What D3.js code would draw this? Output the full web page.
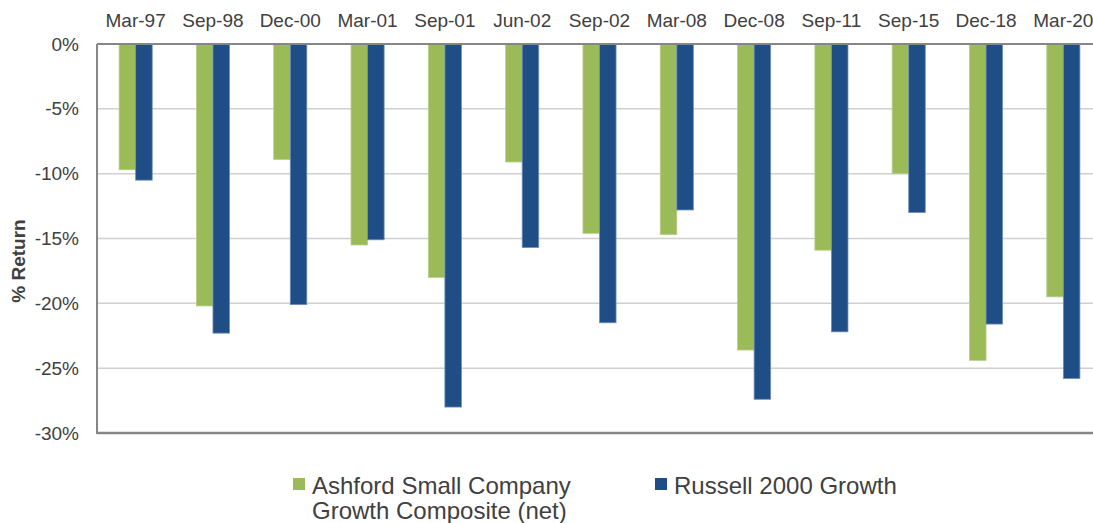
<!DOCTYPE html>
<html>
<head>
<meta charset="utf-8">
<script src="https://cdn.jsdelivr.net/npm/d3@7"></script>
<style>
  body { margin: 0; background: #fff; }
  svg { display: block; font-family: "Liberation Sans", Arial, sans-serif; }
</style>
</head>
<body>
<div id="chart"></div>
<script>
// Drawdown periods and returns (%)
const periods = ["Mar-97", "Sep-98", "Dec-00", "Mar-01", "Sep-01", "Jun-02", "Sep-02",
                 "Mar-08", "Dec-08", "Sep-11", "Sep-15", "Dec-18", "Mar-20"];
const ashford = [-9.7, -20.2, -8.9, -15.5, -18.0, -9.1, -14.6, -14.7, -23.6, -15.9, -10.0, -24.4, -19.5];
const russell = [-10.5, -22.3, -20.1, -15.1, -28.0, -15.7, -21.5, -12.8, -27.4, -22.2, -13.0, -21.6, -25.8];
const yTicks = [0, -5, -10, -15, -20, -25, -30];
const seriesNames = ["Ashford Small Company|Growth Composite (net)", "Russell 2000 Growth"];
const colors = ["#9BBB59", "#1F4E86"];

const width = 1093, height = 523;
const mLeft = 97, mRight = 1102, mTop = 44, mBottom = 433;

const svg = d3.select("#chart").append("svg")
    .attr("width", width)
    .attr("height", height);

const x = d3.scaleBand().domain(periods).range([mLeft, mRight]).padding(0);
const y = d3.scaleLinear().domain([0, -30]).range([mTop, mBottom]);
const barW = x.bandwidth() * 0.214;

// gridlines
svg.append("g")
    .selectAll("line")
    .data(yTicks.filter(d => d !== 0 && d !== -30))
    .join("line")
    .attr("x1", mLeft).attr("x2", width)
    .attr("y1", d => y(d)).attr("y2", d => y(d))
    .attr("stroke", "#d0d0d0")
    .attr("stroke-width", 1.5);

// bars
const rows = periods.map((p, i) => ({ p, vals: [ashford[i], russell[i]] }));
const groups = svg.append("g").selectAll("g")
    .data(rows)
    .join("g")
    .attr("transform", d => `translate(${x(d.p) + x.bandwidth() / 2},0)`);

groups.selectAll("rect")
    .data(d => d.vals)
    .join("rect")
    .attr("x", (d, i) => i === 0 ? -barW : 0)
    .attr("y", y(0))
    .attr("width", barW)
    .attr("height", d => y(d) - y(0))
    .attr("fill", (d, i) => colors[i])
    .attr("stroke", (d, i) => i === 0 ? "#b5cf86" : "#6f8fb6")
    .attr("stroke-width", 0.8);

// axis lines
svg.append("line")
    .attr("x1", mLeft).attr("x2", mLeft).attr("y1", mTop).attr("y2", mBottom + 1)
    .attr("stroke", "#868686").attr("stroke-width", 2);
svg.append("line")
    .attr("x1", mLeft).attr("x2", width).attr("y1", y(0)).attr("y2", y(0))
    .attr("stroke", "#868686").attr("stroke-width", 2);
svg.append("line")
    .attr("x1", mLeft).attr("x2", width).attr("y1", y(-30)).attr("y2", y(-30))
    .attr("stroke", "#868686").attr("stroke-width", 2.5);

// y axis labels
const yAxis = svg.append("g")
    .attr("transform", `translate(${mLeft},0)`)
    .call(d3.axisLeft(y).tickValues(yTicks).tickSize(0).tickPadding(18)
        .tickFormat(d => d + "%"));
yAxis.select(".domain").remove();
yAxis.selectAll("text")
    .attr("font-size", 19)
    .attr("font-family", "Liberation Sans, Arial, sans-serif")
    .attr("fill", "#404040");

// category labels on top
svg.append("g").selectAll("text")
    .data(periods)
    .join("text")
    .attr("x", d => x(d) + x.bandwidth() / 2)
    .attr("y", 27)
    .attr("text-anchor", "middle")
    .attr("font-size", 19)
    .attr("fill", "#404040")
    .text(d => d);

// y title
svg.append("text")
    .attr("transform", "translate(25,261) rotate(-90)")
    .attr("text-anchor", "middle")
    .attr("font-size", 19)
    .attr("font-weight", "bold")
    .attr("fill", "#404040")
    .text("% Return");

// legend
const legendX = [293, 655];
seriesNames.forEach((name, i) => {
    const g = svg.append("g").attr("transform", `translate(${legendX[i]},478)`);
    g.append("rect").attr("width", 12).attr("height", 12).attr("fill", colors[i]);
    name.split("|").forEach((line, j) => {
        g.append("text")
            .attr("x", 19)
            .attr("y", 16 + j * 25)
            .attr("font-size", 24)
            .attr("fill", "#404040")
            .text(line);
    });
});
</script>
</body>
</html>
